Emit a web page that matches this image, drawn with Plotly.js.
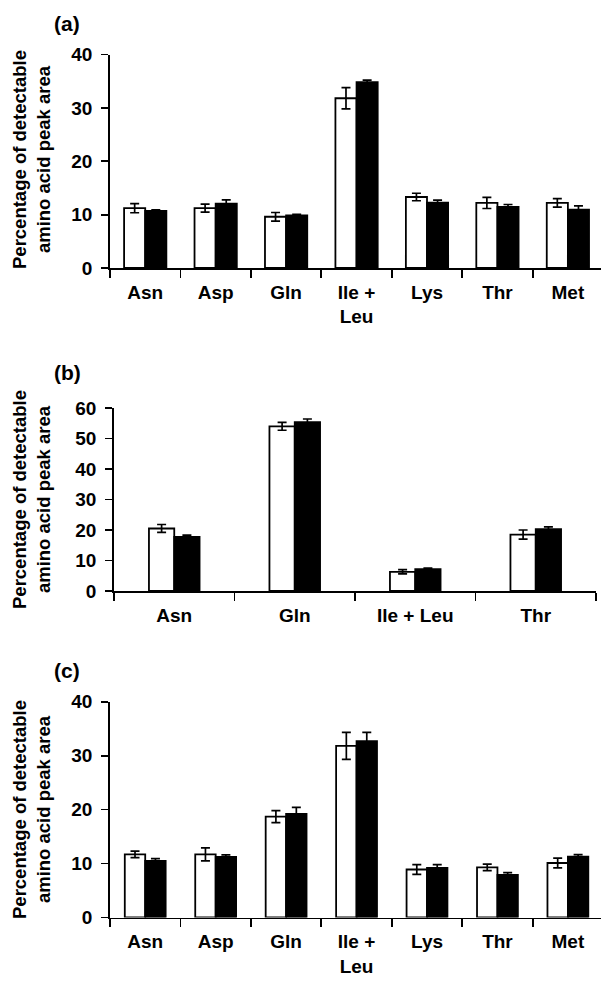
<!DOCTYPE html>
<html>
<head>
<meta charset="utf-8">
<script src="https://cdn.plot.ly/plotly-3.0.1.min.js"></script>
<style>html,body{margin:0;padding:0;background:#fff;}#chart{width:601px;height:982px;}</style>
</head>
<body>
<div id="chart"></div>
<script>
// ---- data ----
const catsA = ["Asn", "Asp", "Gln", "Ile +<br>Leu", "Lys", "Thr", "Met"];
const whiteA = [11.2, 11.2, 9.6, 31.8, 13.3, 12.2, 12.2];
const whiteErrA = [0.85, 0.75, 0.8, 2.0, 0.7, 1.05, 0.8];
const blackA = [10.7, 12.05, 9.85, 34.8, 12.25, 11.45, 10.95];
const blackErrA = [0.2, 0.7, 0.2, 0.4, 0.45, 0.45, 0.7];

const catsB = ["Asn", "Gln", "Ile + Leu", "Thr"];
const whiteB = [20.5, 54.0, 6.3, 18.5];
const whiteErrB = [1.3, 1.3, 0.7, 1.5];
const blackB = [17.7, 55.4, 7.2, 20.3];
const blackErrB = [0.6, 1.0, 0.3, 0.7];

const catsC = ["Asn", "Asp", "Gln", "Ile +<br>Leu", "Lys", "Thr", "Met"];
const whiteC = [11.7, 11.7, 18.7, 31.8, 8.9, 9.3, 10.1];
const whiteErrC = [0.6, 1.2, 1.1, 2.5, 0.9, 0.6, 0.9];
const blackC = [10.5, 11.25, 19.2, 32.7, 9.2, 7.9, 11.3];
const blackErrC = [0.4, 0.35, 1.2, 1.6, 0.6, 0.4, 0.35];

const yTitle = "Percentage of detectable<br>amino acid peak area";
const panelLabels = ["(a)", "(b)", "(c)"];

// ---- helpers ----
const W = 601, H = 982;
const FONT = "'Liberation Sans', Arial, Helvetica, sans-serif";
const px = v => v / W;
const py = v => 1 - v / H;
const bold = s => s.split("<br>").map(p => "<b>" + p + "</b>").join("<br>");

function pair(cats, wv, we, bv, be, xa, ya, w) {
  const err = arr => ({type: "data", array: arr, visible: true, color: "#000", thickness: 1.7, width: 4.5});
  const c = cats.map(bold);
  return [
    {type: "bar", x: c, y: wv, xaxis: xa, yaxis: ya, width: w, offset: -w,
     marker: {color: "#fff", line: {color: "#000", width: 1.8}}, error_y: err(we),
     showlegend: false, hoverinfo: "skip"},
    {type: "bar", x: c, y: bv, xaxis: xa, yaxis: ya, width: w, offset: 0,
     marker: {color: "#000", line: {color: "#000", width: 1.8}}, error_y: err(be),
     showlegend: false, hoverinfo: "skip"}
  ];
}

const data = [].concat(
  pair(catsA, whiteA, whiteErrA, blackA, blackErrA, "x", "y", 0.3),
  pair(catsB, whiteB, whiteErrB, blackB, blackErrB, "x2", "y2", 0.21),
  pair(catsC, whiteC, whiteErrC, blackC, blackErrC, "x3", "y3", 0.29)
);

const tickFont = {family: FONT, size: 19, color: "#000", weight: 700};
function xax(domain, range, anchor) {
  return {domain: domain, range: range, anchor: anchor, type: "category",
    showline: true, linecolor: "#000", linewidth: 1.8, ticks: "outside", tickson: "boundaries",
    ticklen: 8, tickwidth: 1.8, tickcolor: "#000", tickfont: tickFont, ticklabelstandoff: 6,
    showgrid: false, zeroline: false, fixedrange: true, automargin: false};
}
function yax(domain, range, dtick, anchor) {
  return {domain: domain, range: range, dtick: dtick, anchor: anchor,
    showline: true, linecolor: "#000", linewidth: 1.8, ticks: "outside",
    ticklen: 7, tickwidth: 1.8, tickcolor: "#000", tickfont: tickFont, ticklabelstandoff: 5,
    tickprefix: "<b>", ticksuffix: "</b>",
    showgrid: false, zeroline: false, fixedrange: true, automargin: false};
}

function ann(text, x, y, size, angle) {
  return {text: bold(text), x: px(x), y: py(y), xref: "paper", yref: "paper", showarrow: false,
    xanchor: "center", yanchor: "middle", textangle: angle || 0,
    font: {family: FONT, size: size, color: "#000", weight: 700}};
}

const layout = {
  width: W, height: H,
  margin: {l: 0, r: 0, t: 0, b: 0},
  paper_bgcolor: "#fff", plot_bgcolor: "rgba(0,0,0,0)",
  barmode: "group",
  font: {family: FONT, color: "#000"},
  xaxis: xax([px(110), 1], [-0.5, 6.47], "y"),
  yaxis: yax([py(268), py(54.5)], [0, 40], 10, "x"),
  xaxis2: xax([px(114), px(596)], [-0.5, 3.5], "y2"),
  yaxis2: yax([py(591), py(408)], [0, 60], 10, "x2"),
  xaxis3: xax([px(110), 1], [-0.5, 6.47], "y3"),
  yaxis3: yax([py(917.5), py(701.7)], [0, 40], 10, "x3"),
  annotations: [
    ann(panelLabels[0], 67, 24, 21),
    ann(panelLabels[1], 67, 372, 21),
    ann(panelLabels[2], 67, 670, 21),
    ann(yTitle, 31, 160, 18.5, -90),
    ann(yTitle, 31, 500, 18.5, -90),
    ann(yTitle, 31, 810, 18.5, -90)
  ]
};

Plotly.newPlot("chart", data, layout, {staticPlot: true, displayModeBar: false});
</script>
</body>
</html>
